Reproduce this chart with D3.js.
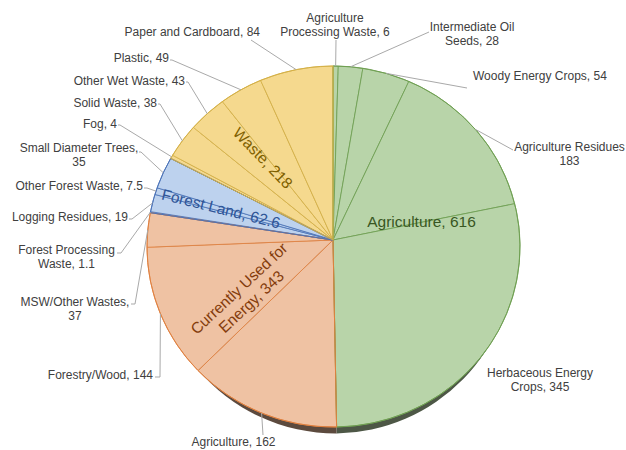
<!DOCTYPE html>
<html><head><meta charset="utf-8">
<script src="https://cdn.jsdelivr.net/npm/d3@7"></script>
<style>body{margin:0;background:#fff}svg{display:block}</style>
</head><body>
<svg id="chart" width="626" height="450"></svg>
<script>
// ---------- DATA ----------
const groupNames  = ["Agriculture", "Currently Used for Energy", "Forest Land", "Waste"];
const groupValues = [616, 343, 62.6, 218];

const leafNames = [
  "Agriculture Processing Waste", "Intermediate Oil Seeds", "Woody Energy Crops",
  "Agriculture Residues", "Herbaceous Energy Crops",
  "Agriculture", "Forestry/Wood", "MSW/Other Wastes",
  "Forest Processing Waste", "Logging Residues", "Other Forest Waste", "Small Diameter Trees",
  "Fog", "Solid Waste", "Other Wet Waste", "Plastic", "Paper and Cardboard"
];
const leafValues = [6, 28, 54, 183, 345, 162, 144, 37, 1.1, 19, 7.5, 35, 4, 38, 43, 49, 84];
const leafGroup  = [0, 0, 0, 0, 0, 1, 1, 1, 2, 2, 2, 2, 3, 3, 3, 3, 3];

// ---------- STYLE / LAYOUT ----------
const groupFill   = ["#b8d4a9", "#efc2a3", "#bdd2ee", "#f5d98e"];
const groupStroke = ["#6f9f52", "#e0803f", "#4a72b8", "#d4b046"];
const groupShadow = ["#4d5746", "#5c4a3e", "#4a5060", "#6a5c3a"];
const groupText   = ["#385723", "#843c0c", "#2f5597", "#7f6000"];
const groupLabelPos = [
  {x: 421.5, y: 221.5, rot: 0,   lines: null},
  {x: 245,   y: 295,   rot: -43, lines: ["Currently Used for", "Energy, "]},
  {x: 221,   y: 208.5, rot: 14,  lines: null},
  {x: 263,   y: 158,   rot: 46,  lines: null}
];
// br: word before which the label wraps; "#v" wraps before the value (comma kept unless nc)
const leafLabelPos = [
  {x: 335,   y: 22,  a: "middle", br: "Processing", s: [336, 40]},
  {x: 472,   y: 31,  a: "middle", br: "Seeds",      s: [429, 32]},
  {x: 473,   y: 80,  a: "start",  br: null,         s: [467, 88]},
  {x: 569.5, y: 151, a: "middle", br: "#v", nc: true, s: [513, 150]},
  {x: 540,   y: 377, a: "middle", br: "Crops",      s: null},
  {x: 233.5, y: 446, a: "middle", br: null,         s: [263, 435]},
  {x: 153,   y: 379, a: "end",    br: null,         s: [155, 377], h: 160},
  {x: 75,    y: 306, a: "middle", br: "#v",         s: [131, 304], h: 135},
  {x: 66.5,  y: 254, a: "middle", br: "Waste",      s: [117, 253], h: 121},
  {x: 128,   y: 221, a: "end",    br: null,         s: [129, 219], h: 132},
  {x: 143,   y: 190, a: "end",    br: null,         s: [144, 188], h: 147},
  {x: 79,    y: 152, a: "middle", br: "#v",         s: [139, 152], h: 141},
  {x: 117,   y: 128, a: "end",    br: null,         s: [118, 125], h: 120},
  {x: 157,   y: 107, a: "end",    br: null,         s: [158, 104], h: 160},
  {x: 185,   y: 85,  a: "end",    br: null,         s: [186, 82],  h: 188},
  {x: 169,   y: 62,  a: "end",    br: null,         s: [170, 60],  h: 172},
  {x: 260,   y: 36,  a: "end",    br: null,         s: [251, 40]}
];

const faceE   = {cx: 333.5, cy: 246.5, rx: 186.5, ry: 180.5, ax: 333, ay: 240};
const shadowE = {cx: 336,   cy: 253,   rx: 181,   ry: 180.5, ax: 333, ay: 246};

const svg = d3.select("#chart");
svg.append("rect").attr("width", 626).attr("height", 450).attr("fill", "#fff");

const pie = d3.pie().sort(null).value(d => d).startAngle(0).endAngle(2 * Math.PI);
const leafArcs  = pie(leafValues);
const groupArcs = pie(groupValues);

function rim(e, theta) {
  const s = Math.sin(theta), c = -Math.cos(theta);
  const px = e.ax - e.cx, py = e.ay - e.cy;
  const A = s * s / (e.rx * e.rx) + c * c / (e.ry * e.ry);
  const B = 2 * (px * s / (e.rx * e.rx) + py * c / (e.ry * e.ry));
  const C = px * px / (e.rx * e.rx) + py * py / (e.ry * e.ry) - 1;
  const t = (-B + Math.sqrt(B * B - 4 * A * C)) / (2 * A);
  return [e.ax + t * s, e.ay + t * c];
}
function slicePath(e, a0, a1) {
  const p0 = rim(e, a0), p1 = rim(e, a1);
  const large = (a1 - a0) > Math.PI ? 1 : 0;
  return `M${e.ax},${e.ay}L${p0[0]},${p0[1]}A${e.rx},${e.ry} 0 ${large} 1 ${p1[0]},${p1[1]}Z`;
}

svg.append("g").selectAll("path").data(groupArcs).join("path")
  .attr("d", d => slicePath(shadowE, d.startAngle, d.endAngle))
  .attr("fill", (d, i) => groupShadow[i]);

svg.append("g").selectAll("path").data(leafArcs).join("path")
  .attr("d", d => slicePath(faceE, d.startAngle, d.endAngle))
  .attr("fill", (d, i) => groupFill[leafGroup[i]])
  .attr("stroke", (d, i) => groupStroke[leafGroup[i]])
  .attr("stroke-width", 0.8)
  .attr("stroke-linejoin", "round");

svg.append("g").selectAll("path").data(groupArcs).join("path")
  .attr("d", d => slicePath(faceE, d.startAngle, d.endAngle))
  .attr("fill", "none")
  .attr("stroke", (d, i) => groupStroke[i])
  .attr("stroke-width", 1)
  .attr("stroke-linejoin", "round");

const fmt = v => String(v);
const gl = svg.append("g").attr("font-family", "'Liberation Sans', Arial, sans-serif")
  .attr("font-size", 15.5);
groupArcs.forEach((d, i) => {
  const p = groupLabelPos[i];
  const lines = p.lines ? p.lines.map((l, k) => k === p.lines.length - 1 ? l + fmt(groupValues[i]) : l)
                        : [groupNames[i] + ", " + fmt(groupValues[i])];
  const t = gl.append("text")
    .attr("transform", `translate(${p.x},${p.y}) rotate(${p.rot})`)
    .attr("text-anchor", "middle").attr("fill", groupText[i]);
  const lh = 18, off = -(lines.length - 1) * lh / 2;
  lines.forEach((l, k) => t.append("tspan").attr("x", 0).attr("y", off + k * lh)
    .attr("dominant-baseline", "central").text(l));
});

const leaders = svg.append("g").attr("fill", "none").attr("stroke", "#a9a9a9").attr("stroke-width", 1);
leafArcs.forEach((d, i) => {
  const p = leafLabelPos[i];
  if (!p.s) return;
  const mid = (d.startAngle + d.endAngle) / 2;
  const r = rim(faceE, mid);
  const pts = [p.s];
  if (p.h !== undefined) pts.push([p.h, p.s[1]]);
  pts.push(r);
  leaders.append("path").attr("d", d3.line()(pts));
});

const ll = svg.append("g").attr("font-family", "'Liberation Sans', Arial, sans-serif")
  .attr("font-size", 12).attr("fill", "#404040");
leafArcs.forEach((d, i) => {
  const p = leafLabelPos[i];
  const full = leafNames[i] + ", " + fmt(leafValues[i]);
  let lines;
  if (p.br === "#v") lines = [leafNames[i] + (p.nc ? "" : ","), fmt(leafValues[i])];
  else if (p.br) { const k = full.indexOf(" " + p.br); lines = [full.slice(0, k), full.slice(k + 1)]; }
  else lines = [full];
  const t = ll.append("text").attr("text-anchor", p.a);
  lines.forEach((l, k) => t.append("tspan").attr("x", p.x).attr("y", p.y + k * 14).text(l));
});
</script>
</body></html>
